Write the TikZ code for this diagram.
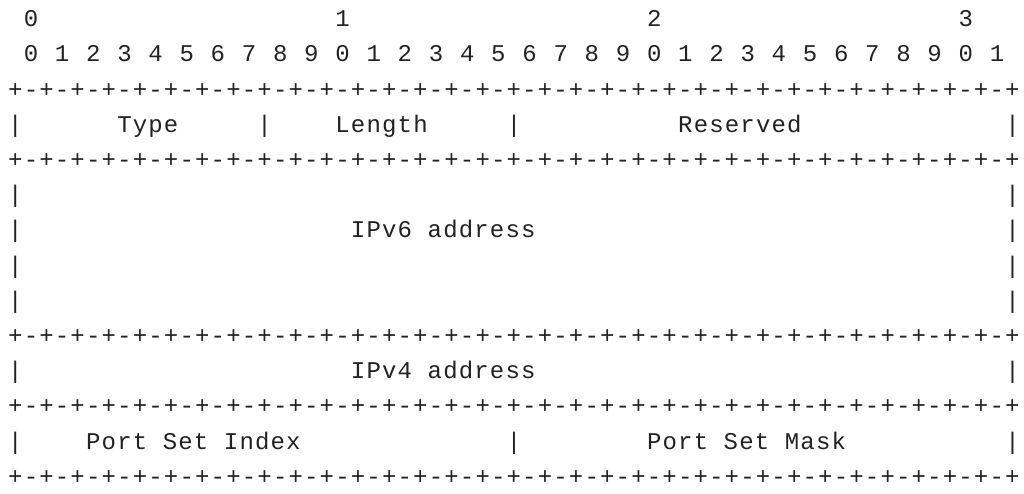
\documentclass[tikz,border=0pt]{standalone}
\usepackage{fontspec}
\newfontfamily\asciifont[LetterSpace=4.9]{Liberation Mono}
\definecolor{ink}{HTML}{222222}
\tikzset{asc/.style={anchor=base west, inner sep=0pt, text=ink,
  font=\asciifont\fontsize{12pt}{14pt}\selectfont}}
\def\rowline{+-+-+-+-+-+-+-+-+-+-+-+-+-+-+-+-+-+-+-+-+-+-+-+-+-+-+-+-+-+-+-+-+}

\begin{document}
\begin{tikzpicture}[x=7.79pt, y=-17.6pt]
	\fill[white] (-0.5,0.24) rectangle (65.22,14.25);
	\useasboundingbox (-0.5,0.24) rectangle (65.22,14.25);
	
	% bit ruler
	\foreach \t [count=\i from 0] in {0,1,2,3}
		\node[asc] (dec\i) at (20*\i+1,1) {\t};
	\foreach \b in {0,...,31}{
		\pgfmathtruncatemacro\d{mod(\b,10)}
		\node[asc] (bit\b) at (2*\b+1,2) {\d};
	}
	
	% +-+ rows
	\foreach \r in {3,5,10,12,14}
		\node[asc] (sep\r) at (0,\r) {\rowline};
	
	% outer bars
	\foreach \r in {4,6,7,8,9,11,13}{
		\node[asc] (lbar\r) at (0,\r) {|};
		\node[asc] (rbar\r) at (64,\r) {|};
	}
	
	% fields
	\node[asc] (type) at (7,4) {Type};
	\node[asc] (tbar) at (16,4) {|};
	\node[asc] (len) at (21,4) {Length};
	\node[asc] (lbar) at (32,4) {|};
	\node[asc] (resv) at (43,4) {Reserved};
	
	\node[asc] (vsix) at (22,7) {IPv6 address};
	\node[asc] (vfour) at (22,11) {IPv4 address};
	
	\node[asc] (psi) at (5,13) {Port Set Index};
	\node[asc] (pbar) at (32,13) {|};
	\node[asc] (psm) at (41,13) {Port Set Mask};
\end{tikzpicture}
\end{document}
